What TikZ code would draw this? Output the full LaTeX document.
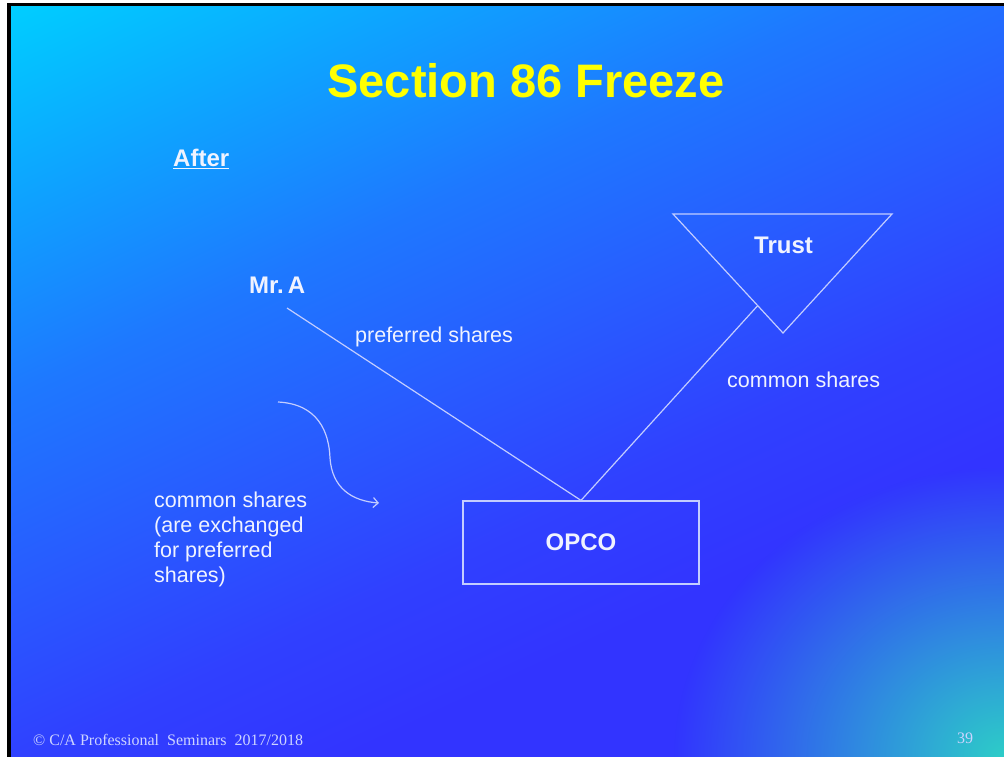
\documentclass[tikz,border=0pt]{standalone}
\usepackage{fontspec}
\setmainfont{Liberation Sans}
\newfontfamily\footfont{Liberation Serif}
\usetikzlibrary{arrows.meta,calc,fadings}

\definecolor{bgA}{RGB}{0,205,255}
\definecolor{bgB}{RGB}{15,160,255}
\definecolor{bgC}{RGB}{30,120,255}
\definecolor{bgD}{RGB}{40,92,255}
\definecolor{bgE}{RGB}{48,64,255}
\definecolor{bgF}{RGB}{50,52,255}
\definecolor{tealc}{RGB}{45,205,200}
\definecolor{titleyellow}{RGB}{255,255,0}
\definecolor{inkwhite}{RGB}{240,243,255}
\definecolor{linecol}{RGB}{195,205,255}
\definecolor{footcol}{RGB}{205,212,255}

\pgfdeclarehorizontalshading{slidebg}{100bp}{%
  color(0bp)=(bgA); color(17bp)=(bgA); color(28bp)=(bgB); color(38bp)=(bgC);
  color(48bp)=(bgD); color(58bp)=(bgE); color(66bp)=(bgF); color(100bp)=(bgF)}

\tikzfading[name=cornerglow, inner color=transparent!0, outer color=transparent!100]

\tikzset{
  label/.style={text=inkwhite, inner sep=0pt, font=\fontsize{21.5}{25}\selectfont},
  boldlabel/.style={text=inkwhite, inner sep=0pt, font=\bfseries\fontsize{24}{28}\selectfont},
  conn/.style={draw=linecol, line width=1.2pt},
  box/.style={draw=linecol, line width=1.2pt, minimum width=236pt, minimum height=83pt,
    text=inkwhite, font=\bfseries\fontsize{24}{28}\selectfont, inner sep=0pt},
}

\begin{document}
\begin{tikzpicture}[x=1pt,y=-1pt]
  \useasboundingbox (0,0) rectangle (1004,757);
  \begin{scope}
    \clip (0,0) rectangle (1004,757);
    % page and slide frame
    \fill[white] (0,0) rectangle (1004,757);
    \fill[black] (7,3) rectangle (1010,765);
    \fill[shading=slidebg, shading angle=-65] (11,7) rectangle (1010,765);
    % teal glow in the lower right corner
    \clip (11,7) rectangle (1004,757);
    \fill[tealc, path fading=cornerglow] (1004,757) ellipse (330 and 290);
  \end{scope}

  % title
  \node[anchor=base, inner sep=0pt, text=titleyellow,
        font=\bfseries\fontsize{47}{56}\selectfont] (title) at (526,98) {Section 86 Freeze};
  \node[boldlabel, anchor=base west] (after) at (173,167) {\underline{After}};

  % parties
  \node[boldlabel, anchor=base west] (mra) at (249,293) {Mr.\,A};
  \coordinate (mrafoot) at (287,308);

  \coordinate (tl) at (673,214);
  \coordinate (tr) at (892,214);
  \coordinate (tb) at (783,333);
  \draw[conn, line join=miter] (tl) -- (tr) -- (tb) -- cycle;
  \node[boldlabel, anchor=base] (trust) at (783.5,253) {Trust};
  \coordinate (trustin) at ($(tl)!0.77!(tb)$);

  \node[box] (opco) at (581,542.5) {OPCO};

  % holdings
  \draw[conn] (mrafoot) -- (opco.north);
  \draw[conn] (opco.north) -- (trustin);

  \node[label, anchor=base west] (pref) at (355,342) {preferred shares};
  \node[label, anchor=base west] (comm) at (727,387) {common shares};

  % exchange note and arrow
  \node[label, anchor=north west, align=left] (note) at (154,492)
    {common shares\\(are exchanged\\for preferred\\shares)};
  \coordinate (swirl) at (278,402);
  \coordinate (swirltip) at (379,503);
  \draw[conn, -{Straight Barb[length=5pt,width=10pt]}]
    (swirl) .. controls (318,404) and (329,432) .. (330,458)
            .. controls (332,488) and (352,501) .. (swirltip);

  % footer
  \node[anchor=base west, inner sep=0pt, text=footcol, font=\footfont\fontsize{16}{18}\selectfont]
    (foot) at (33,745) {\textcopyright{} C/A Professional\ \ Seminars\ \ 2017/2018};
  \node[anchor=base west, inner sep=0pt, text=footcol, font=\footfont\fontsize{16}{18}\selectfont]
    (pageno) at (957,743) {39};
\end{tikzpicture}
\end{document}
